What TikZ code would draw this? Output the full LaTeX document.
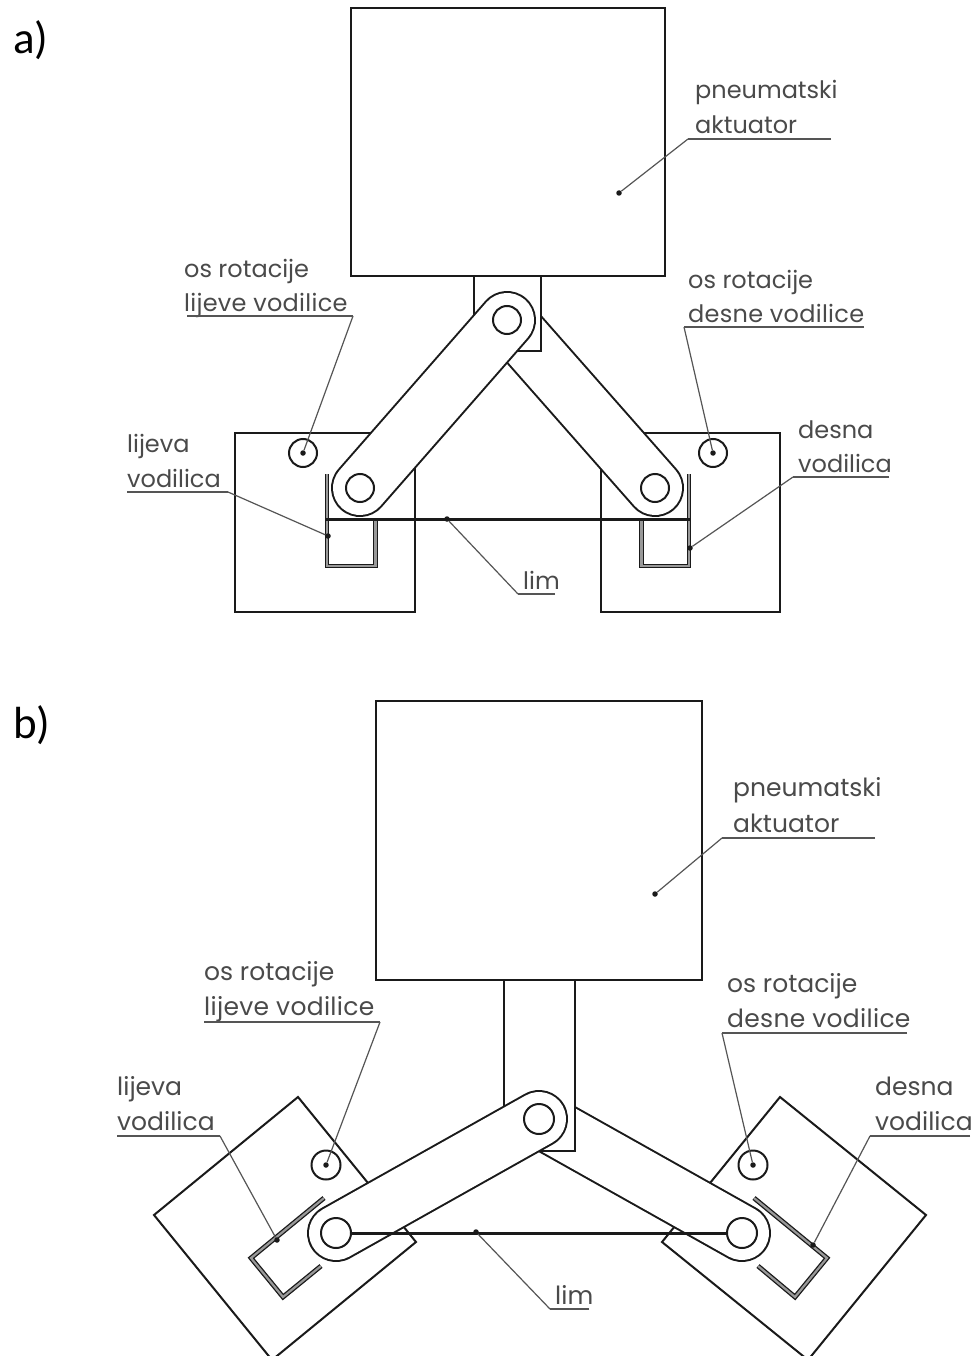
\documentclass[tikz,border=0pt]{standalone}
\usepackage{fontspec}
\setmainfont{Poppins}
\newfontfamily\headfont{Carlito}
\definecolor{ink}{HTML}{1A1A1A}
\definecolor{txt}{HTML}{4A4A4A}
\definecolor{lead}{HTML}{555555}
\definecolor{wall}{HTML}{999999}
\tikzset{
  x=1pt,y=-1pt,
  part/.style={draw=ink,line width=2pt,fill=white,line join=miter},
  pin/.style={circle,draw=ink,line width=2pt,fill=white,minimum size=#1,inner sep=0pt},
  pin/.default=28pt,
  taga/.style={anchor=base west,inner sep=0pt,text=txt,font=\fontsize{24}{24}\selectfont},
  tagb/.style={anchor=base west,inner sep=0pt,text=txt,font=\fontsize{25}{25}\selectfont},
  wide/.append style={font=\addfontfeature{LetterSpace=1.2}},
  head/.style={anchor=base west,inner sep=0pt,text=black,font=\headfont\fontsize{45}{45}\selectfont},
  leader/.style={draw=lead,line width=1.2pt},
  under/.style={draw=lead,line width=2pt},
  sheet/.style={draw=ink,line width=3pt},
  chan/.style={draw=ink,line width=1.3pt,double=wall,double distance=2.2pt,line join=miter},
  tipdot/.style={circle,fill=ink,inner sep=0pt,minimum size=5.5pt},
}
\newcommand{\armshape}[2]{%
  \draw[ink,line width=58pt,line cap=round] (#1) -- (#2);
  \draw[white,line width=54pt,line cap=round] (#1) -- (#2);
}
\begin{document}
\begin{tikzpicture}
\useasboundingbox (0,0) rectangle (976,1356);
\clip (0,0) rectangle (976,1356);
\fill[white] (0,0) rectangle (976,1356);

% ---------- a) ----------
\node[head] (heada) at (13,54) {a)};
\coordinate (aPT) at (507,320);
\coordinate (aPL) at (360,488);
\coordinate (aPR) at (655,488);

\draw[part] (235,433) rectangle (415,612);
\draw[part] (601,433) rectangle (780,612);
\draw[chan] (327,474) -- (327,566) -- (375.5,566) -- (375.5,519);
\draw[chan] (689,474) -- (689,566) -- (641.5,566) -- (641.5,519);
\draw[sheet] (325,519) -- (690,519);
\draw[part] (351,8) rectangle (665,276);
\armshape{aPT}{aPR}
\draw[part] (474,276) rectangle (541,351);
\armshape{aPT}{aPL}
\node[pin] (apinT) at (aPT) {};
\node[pin] (apinL) at (aPL) {};
\node[pin] (apinR) at (aPR) {};
\node[pin] (aaxL) at (303,453) {};
\node[pin] (aaxR) at (713,453) {};
\node[tipdot] (adA) at (619,193) {};
\node[tipdot] (adL) at (303,453) {};
\node[tipdot] (adR) at (713,453) {};
\node[tipdot] (adGL) at (328,536) {};
\node[tipdot] (adGR) at (690,548) {};
\node[tipdot] (adS) at (447,519) {};

\node[taga] (a1) at (695,99) {pneumatski};
\node[taga] (a2) at (695,134) {aktuator};
\coordinate (a2e) at (831,139); \coordinate (a2k) at (688,139);
\draw[under] (a2e) -- (a2k); \draw[leader] (a2k) -- (adA);
\node[taga] (a3) at (184,277) {os rotacije};
\node[taga] (a4) at (184,311) {\addfontfeature{LetterSpace=1.2}lijeve vodilice};
\coordinate (a4e) at (187,316); \coordinate (a4k) at (353,316);
\draw[under] (a4e) -- (a4k); \draw[leader] (a4k) -- (adL);
\node[taga] (a5) at (688,288) {os rotacije};
\node[taga] (a6) at (688,322) {\addfontfeature{LetterSpace=1.2}desne vodilice};
\coordinate (a6e) at (864,327); \coordinate (a6k) at (684,327);
\draw[under] (a6e) -- (a6k); \draw[leader] (a6k) -- (adR);
\node[taga] (a7) at (127,452) {lijeva};
\node[taga] (a8) at (127,487) {vodilica};
\coordinate (a8e) at (127,492); \coordinate (a8k) at (228,492);
\draw[under] (a8e) -- (a8k); \draw[leader] (a8k) -- (adGL);
\node[taga] (a9) at (798,438) {desna};
\node[taga] (a10) at (798,472) {vodilica};
\coordinate (a10e) at (889,477); \coordinate (a10k) at (793,477);
\draw[under] (a10e) -- (a10k); \draw[leader] (a10k) -- (adGR);
\node[taga] (a11) at (523,589) {lim};
\coordinate (a11e) at (555,594); \coordinate (a11k) at (518,594);
\draw[under] (a11e) -- (a11k); \draw[leader] (a11k) -- (adS);

% ---------- b) ----------
\node[head] (headb) at (13,738) {b)};
\coordinate (bPT) at (539,1119);
\coordinate (bPL) at (336,1233);
\coordinate (bPR) at (742,1233);

\draw[part] (298,1097) -- (154,1215) -- (272,1360) -- (416,1242) -- cycle;
\draw[part] (780,1097) -- (926,1215) -- (808,1360) -- (662,1242) -- cycle;
\draw[chan] (324,1198) -- (251,1258) -- (283,1297) -- (321,1266);
\draw[chan] (754,1198) -- (827,1258) -- (795,1297) -- (758,1266);
\draw[part] (376,701) rectangle (702,980);
\armshape{bPT}{bPR}
\draw[part] (504,980) rectangle (575,1151);
\armshape{bPT}{bPL}
\node[pin=30pt] (bpinT) at (bPT) {};
\node[pin=30pt] (bpinL) at (bPL) {};
\node[pin=30pt] (bpinR) at (bPR) {};
\draw[sheet] (bpinL) -- (bpinR);
\node[pin=29pt] (baxL) at (326,1165) {};
\node[pin=29pt] (baxR) at (753,1165) {};
\node[tipdot] (bdA) at (655,894) {};
\node[tipdot] (bdL) at (326,1165) {};
\node[tipdot] (bdR) at (753,1165) {};
\node[tipdot] (bdGL) at (277,1240) {};
\node[tipdot] (bdGR) at (813,1245) {};
\node[tipdot] (bdS) at (476,1232) {};

\node[tagb] (b1) at (733,796) {pneumatski};
\node[tagb] (b2) at (733,832) {aktuator};
\coordinate (b2e) at (875,838); \coordinate (b2k) at (722,838);
\draw[under] (b2e) -- (b2k); \draw[leader] (b2k) -- (bdA);
\node[tagb] (b3) at (204,980) {os rotacije};
\node[tagb] (b4) at (204,1015) {\addfontfeature{LetterSpace=1.2}lijeve vodilice};
\coordinate (b4e) at (204,1022); \coordinate (b4k) at (380,1022);
\draw[under] (b4e) -- (b4k); \draw[leader] (b4k) -- (bdL);
\node[tagb] (b5) at (727,992) {os rotacije};
\node[tagb] (b6) at (727,1027) {\addfontfeature{LetterSpace=1.2}desne vodilice};
\coordinate (b6e) at (907,1033); \coordinate (b6k) at (722,1033);
\draw[under] (b6e) -- (b6k); \draw[leader] (b6k) -- (bdR);
\node[tagb] (b7) at (117,1095) {lijeva};
\node[tagb] (b8) at (117,1130) {vodilica};
\coordinate (b8e) at (117,1136); \coordinate (b8k) at (220,1136);
\draw[under] (b8e) -- (b8k); \draw[leader] (b8k) -- (bdGL);
\node[tagb] (b9) at (875,1095) {desna};
\node[tagb] (b10) at (875,1130) {vodilica};
\coordinate (b10e) at (970,1136); \coordinate (b10k) at (870,1136);
\draw[under] (b10e) -- (b10k); \draw[leader] (b10k) -- (bdGR);
\node[tagb] (b11) at (555,1304) {lim};
\coordinate (b11e) at (589,1309); \coordinate (b11k) at (550,1309);
\draw[under] (b11e) -- (b11k); \draw[leader] (b11k) -- (bdS);
\end{tikzpicture}
\end{document}
